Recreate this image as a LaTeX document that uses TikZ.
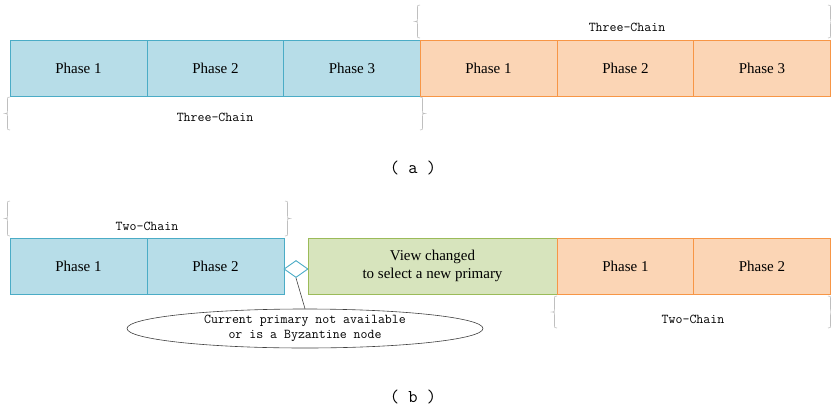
\documentclass[tikz,border=0pt]{standalone}
\usepackage{fontspec}
\setmainfont{Liberation Serif}
\usetikzlibrary{shapes.geometric}

\definecolor{bluefill}{HTML}{B7DDE8}
\definecolor{blueline}{HTML}{4BACC6}
\definecolor{orangefill}{HTML}{FBD5B5}
\definecolor{orangeline}{HTML}{F79646}
\definecolor{greenfill}{HTML}{D7E4BD}
\definecolor{greenline}{HTML}{9BBB59}
\definecolor{braceline}{HTML}{BFBFBF}

% A pair of curly braces { } enclosing a label region.
% #1 left tip x, #2 right tip x, #3 top y, #4 bottom y
\newcommand{\bracepair}[4]{%
  \pgfmathsetmacro{\bpmid}{(#3+#4)/2}%
  \draw[braceshape]
    ({#1+5},#3) .. controls ({#1+2.5},#3) .. ({#1+2.5},{#3+4})
    -- ({#1+2.5},{\bpmid-3}) .. controls ({#1+2.5},\bpmid) .. (#1,\bpmid)
    .. controls ({#1+2.5},\bpmid) .. ({#1+2.5},{\bpmid+3})
    -- ({#1+2.5},{#4-4}) .. controls ({#1+2.5},#4) .. ({#1+5},#4);
  \draw[braceshape]
    ({#2-5},#3) .. controls ({#2-2.5},#3) .. ({#2-2.5},{#3+4})
    -- ({#2-2.5},{\bpmid-3}) .. controls ({#2-2.5},\bpmid) .. (#2,\bpmid)
    .. controls ({#2-2.5},\bpmid) .. ({#2-2.5},{\bpmid+3})
    -- ({#2-2.5},{#4-4}) .. controls ({#2-2.5},#4) .. ({#2-5},#4);
}

\tikzset{
  phase/.style={draw, line width=0.9pt, minimum height=56pt, inner sep=0pt,
    font=\fontsize{15}{17}\selectfont},
  bluephase/.style={phase, fill=bluefill, draw=blueline, minimum width=137pt},
  orangephase/.style={phase, fill=orangefill, draw=orangeline, minimum width=137pt},
  viewbox/.style={phase, fill=greenfill, draw=greenline, minimum width=249pt,
    align=center, font=\fontsize{15}{18}\selectfont},
  braceshape/.style={draw=braceline, line width=0.6pt},
  chainlabel/.style={font=\ttfamily\fontsize{13.5}{15}\selectfont, inner sep=0pt},
  caption/.style={font=\ttfamily\fontsize{18}{20}\selectfont, inner sep=0pt},
  note/.style={ellipse, draw=black!75, line width=0.6pt, minimum width=356pt,
    minimum height=39pt, inner sep=0pt, align=center,
    font=\ttfamily\fontsize{13.5}{15.5}\selectfont},
  junction/.style={diamond, draw=blueline, fill=white, line width=0.9pt,
    minimum width=24pt, minimum height=17pt, inner sep=0pt}
}

\begin{document}
\begin{tikzpicture}[x=1pt, y=-1pt]
  \useasboundingbox (0,0) rectangle (831,410);

  % ---------- (a) three-chain ----------
  \node[bluephase]   (a1) at (78.5,68)  {Phase 1};
  \node[bluephase]   (a2) at (215.5,68) {Phase 2};
  \node[bluephase]   (a3) at (352,68)   {Phase 3};
  \node[orangephase] (a4) at (488.5,68) {Phase 1};
  \node[orangephase] (a5) at (625.5,68) {Phase 2};
  \node[orangephase] (a6) at (762,68)   {Phase 3};

  \bracepair{5}{425}{97}{130}
  \node[chainlabel] (achainlow) at (215,117) {Three-Chain};
  \bracepair{415}{833}{5}{38}
  \node[chainlabel] (achainhigh) at (627,27) {Three-Chain};

  \node[caption] (capa) at (413,168) {( a )};

  % ---------- (b) two-chain with view change ----------
  \node[bluephase]   (b1) at (78.5,266)  {Phase 1};
  \node[bluephase]   (b2) at (215.5,266) {Phase 2};
  \node[junction]    (jn) at (296,269)   {};
  \node[viewbox]     (vc) at (432.5,266) {View changed\\to select a new primary};
  \node[orangephase] (b3) at (625.5,266) {Phase 1};
  \node[orangephase] (b4) at (762,266)   {Phase 2};

  \bracepair{5}{290}{201}{236}
  \node[chainlabel] (bchainhigh) at (147,226) {Two-Chain};
  \bracepair{552}{833}{296}{328}
  \node[chainlabel] (bchainlow) at (693,319) {Two-Chain};

  \node[note] (fault) at (305,328.5) {Current primary not available\\or is a Byzantine node};
  \draw[black!75, line width=0.6pt] (jn.south) -- (fault.north);

  \node[caption] (capb) at (413,397) {( b )};
\end{tikzpicture}
\end{document}
